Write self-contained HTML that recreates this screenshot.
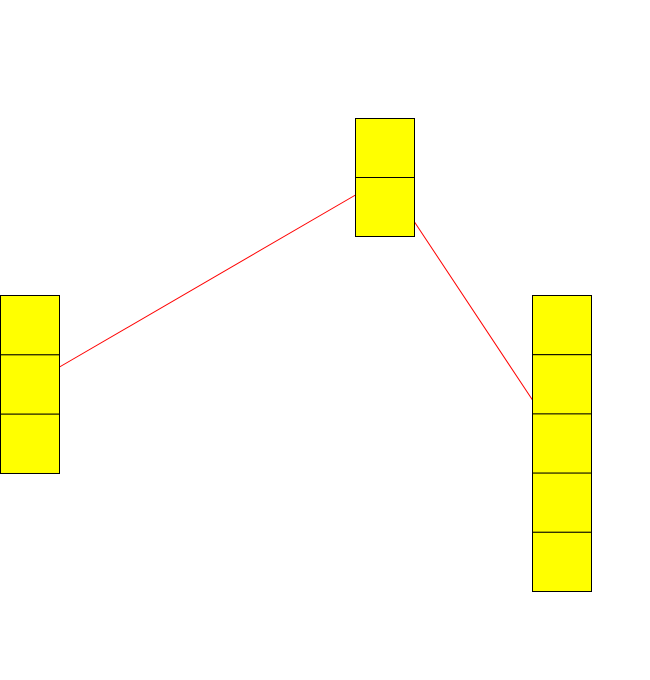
<!DOCTYPE html>
<html>
<head>
<meta charset="utf-8">
<style>
  html, body { margin: 0; padding: 0; background: #fff; }
  svg { display: block; }
</style>
</head>
<body>
<svg id="chart" width="650" height="680" xmlns="http://www.w3.org/2000/svg"></svg>
<script>
const stackNames = ['left-stack', 'middle-stack', 'right-stack'];
const stackCounts = [3, 2, 5];
const stackX = [0, 355, 532];
const stackTop = [295, 118, 295];
const stackPitch = [59.33, 59, 59.2];
const links = [[0, 1], [1, 2]];
const linkFromY = [367, 222];
const linkToY = [195, 400];

const svg = document.getElementById('chart');
const NS = 'http://www.w3.org/2000/svg';
const W = 59;

links.forEach((l, i) => {
  const a = l[0], b = l[1];
  const line = document.createElementNS(NS, 'line');
  
  
  line.setAttribute('x1', stackX[a] + W + 0.5);
  line.setAttribute('y1', linkFromY[i]);
  line.setAttribute('x2', stackX[b] + 0.5);
  line.setAttribute('y2', linkToY[i]);
  line.setAttribute('stroke', '#ff0000');
  line.setAttribute('stroke-width', '1');
  svg.appendChild(line);
});

stackNames.forEach((name, s) => {
  const g = document.createElementNS(NS, 'g');
  
  
  const H = stackPitch[s];
  for (let k = 0; k < stackCounts[s]; k++) {
    const r = document.createElementNS(NS, 'rect');
    
    
    r.setAttribute('x', stackX[s] + 0.5);
    r.setAttribute('y', stackTop[s] + k * H + 0.5);
    r.setAttribute('width', W);
    r.setAttribute('height', H);
    r.setAttribute('fill', '#ffff00');
    r.setAttribute('stroke', '#000');
    r.setAttribute('stroke-width', '1');
    g.appendChild(r);
  }
  svg.appendChild(g);
});
</script>
</body>
</html>
